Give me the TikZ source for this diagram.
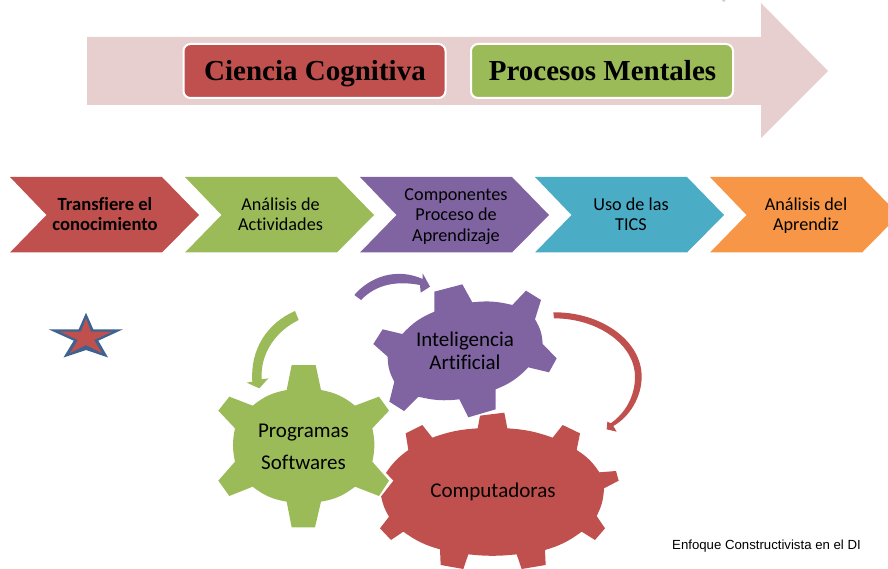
\documentclass[tikz,border=0pt]{standalone}
\usepackage{fontspec}
\setmainfont[Ligatures=NoCommon]{Carlito}
\newfontfamily\serifbold{Liberation Serif}
\newfontfamily\footfont{Liberation Sans}
\definecolor{cred}{HTML}{C0504D}
\definecolor{cgreen}{HTML}{9BBB59}
\definecolor{cpurple}{HTML}{8064A2}
\definecolor{cteal}{HTML}{4BACC6}
\definecolor{corange}{HTML}{F79646}
\definecolor{cpale}{HTML}{E8CFCF}
\definecolor{cstar}{HTML}{3F6391}
\tikzset{
  chevtext/.style={anchor=base,inner sep=0pt,align=center,text=black,font=\fontsize{18.2}{20.7}\selectfont},
  geartext/.style={anchor=base,inner sep=0pt,align=center,text=black,font=\fontsize{21}{23}\selectfont},
  headbox/.style={draw=white,line width=2pt,rounded corners=7pt},
  headtext/.style={anchor=base,inner sep=0pt,text=black,font=\serifbold\bfseries\fontsize{29}{30}\selectfont},
  zoomed/.style={shift={(200,270)},x=0.33333pt,y=-0.33333pt}
}
\begin{document}
\begin{tikzpicture}[x=1pt,y=-1pt]
\useasboundingbox (0,0) rectangle (888,569);
\clip (0,0) rectangle (888,569);
% big arrow
\fill[cpale] (87,37) -- (761,37) -- (761,3) -- (828,71) -- (761,138) -- (761,105) -- (87,105) -- cycle;
\fill[gray!35] (721.5,0) -- (725.5,0) -- (724.5,2) -- (723,1.5) -- cycle;
\draw[headbox,fill=cred] (183.5,44) rectangle (445.5,98);
\draw[headbox,fill=cgreen] (471,44) rectangle (733,98);
\node[headtext] (cc) at (315,81) {Ciencia Cognitiva};
\node[headtext] (pm) at (602.5,81) {Procesos Mentales};
% chevrons
\foreach \dx/\col in {0/cred,175/cgreen,350/cpurple,525/cteal,700/corange}{
  \fill[\col,shift={(\dx,0)}] (10,177) -- (162,177) -- (199,215) -- (162,252.5) -- (10,252.5) -- (46.5,215) -- cycle;
}
\node[chevtext,font=\fontsize{18.6}{20.7}\selectfont\bfseries] (c1) at (105,231) {Transfiere el\\conocimiento};
\node[chevtext] (c2) at (280.5,231) {Análisis de\\Actividades};
\node[chevtext] (c3) at (456,241.5) {Componentes\\Proceso de\\Aprendizaje};
\node[chevtext] (c4) at (631,231) {Uso de las\\TICS};
\node[chevtext] (c5) at (806,231) {Análisis del\\Aprendiz};
% star
\fill[cstar] (86,312.7) -- (93.3,329.3) -- (123,329.3) -- (98.3,340.7) -- (108,357.5) -- (86,350) -- (63.5,357.5) -- (73.7,340.7) -- (48.5,329.3) -- (78.7,329.3) -- cycle;
\fill[cred] (86,318.3) -- (91,331.7) -- (112,331.7) -- (94,340) -- (102,353) -- (86,345) -- (70,353) -- (78,340) -- (60,331.7) -- (81,331.7) -- cycle;
\begin{scope}[zoomed]
% green gear
\fill[cgreen] (275,285) -- (347,285) -- (363,360) to[bend left=14] (465,407) -- (537,380) -- (567,422) -- (517,475)
 to[bend left=12] (517,575) -- (567,632) -- (537,678) -- (465,650) to[bend left=14] (363,695) -- (345,772) -- (275,772) -- (260,695)
 to[bend left=14] (158,650) -- (88,678) -- (55,632) -- (105,575) to[bend left=12] (105,475) -- (55,422) -- (88,380) -- (158,407) to[bend left=14] (260,360) -- cycle;
% purple gear
\fill[cpurple] (703,65) -- (787,43) -- (817,97) to[bend left=10] (937,105) -- (978,62) -- (1023,90) -- (1005,148) to[bend left=14] (1028,222)
 -- (1070,265) -- (1047,307) -- (985,292) to[bend left=12] (887,358) -- (887,418) -- (805,442) -- (778,388) to[bend left=10] (655,380)
 -- (612,423) -- (568,395) -- (583,335) to[bend left=14] (563,260) -- (520,222) -- (548,178) -- (607,192) to[bend left=12] (703,125) -- cycle;
% red gear
\fill[cred] (833,475) -- (840,437) -- (913,428) -- (922,475) to[bend left=8] (1058,503) -- (1088,465) -- (1140,490) -- (1130,540)
 to[bend left=12] (1198,607) -- (1248,603) -- (1256,632) -- (1212,655) to[bend left=12] (1190,738) -- (1215,775) -- (1185,810) -- (1145,785)
 to[bend left=10] (1035,840) -- (1037,885) -- (965,897) -- (950,853) to[bend left=6] (805,853) -- (790,897) -- (722,885) -- (720,838)
 to[bend left=10] (610,785) -- (573,810) -- (540,775) -- (567,740) to[bend left=10] (543,677) -- (578,632) -- (557,610) to[bend left=10] (625,540)
 -- (617,490) -- (667,465) -- (697,503) to[bend left=8] cycle;
\draw[white,line width=0.8pt] (557,610) -- (578,632) -- (543,677);
% curved arrows
\fill[cpurple] (463,75) .. controls (510,20) and (590,-8) .. (668,27) -- (668,10) -- (690,50) -- (662,68) -- (660,45) .. controls (590,32) and (530,42) .. (483,90) -- cycle;
\fill[cgreen] (285,123) .. controls (200,160) and (150,240) .. (157,335) -- (140,338) -- (178,355) -- (205,325) -- (185,328) .. controls (180,250) and (228,183) .. (296,150) -- cycle;
\fill[cred] (1060,127) .. controls (1200,125) and (1325,210) .. (1325,320) .. controls (1325,380) and (1290,440) .. (1240,468) -- (1250,485) -- (1220,478) -- (1222,455) -- (1232,460) .. controls (1275,430) and (1305,380) .. (1305,320) .. controls (1305,225) and (1195,145) .. (1062,145) -- cycle;
\end{scope}
\node[geartext] (ia) at (465,369) {Inteligencia\\Artificial};
\node[geartext] (ps) at (303.5,437) {Programas};
\node[geartext] (ps2) at (303.5,469) {Softwares};
\node[geartext] (cp) at (493,497) {Computadoras};
\node[anchor=base,inner sep=0pt,font=\footfont\fontsize{13.2}{15}\selectfont] (ft) at (766.5,549) {Enfoque Constructivista en el DI};
\end{tikzpicture}
\end{document}
